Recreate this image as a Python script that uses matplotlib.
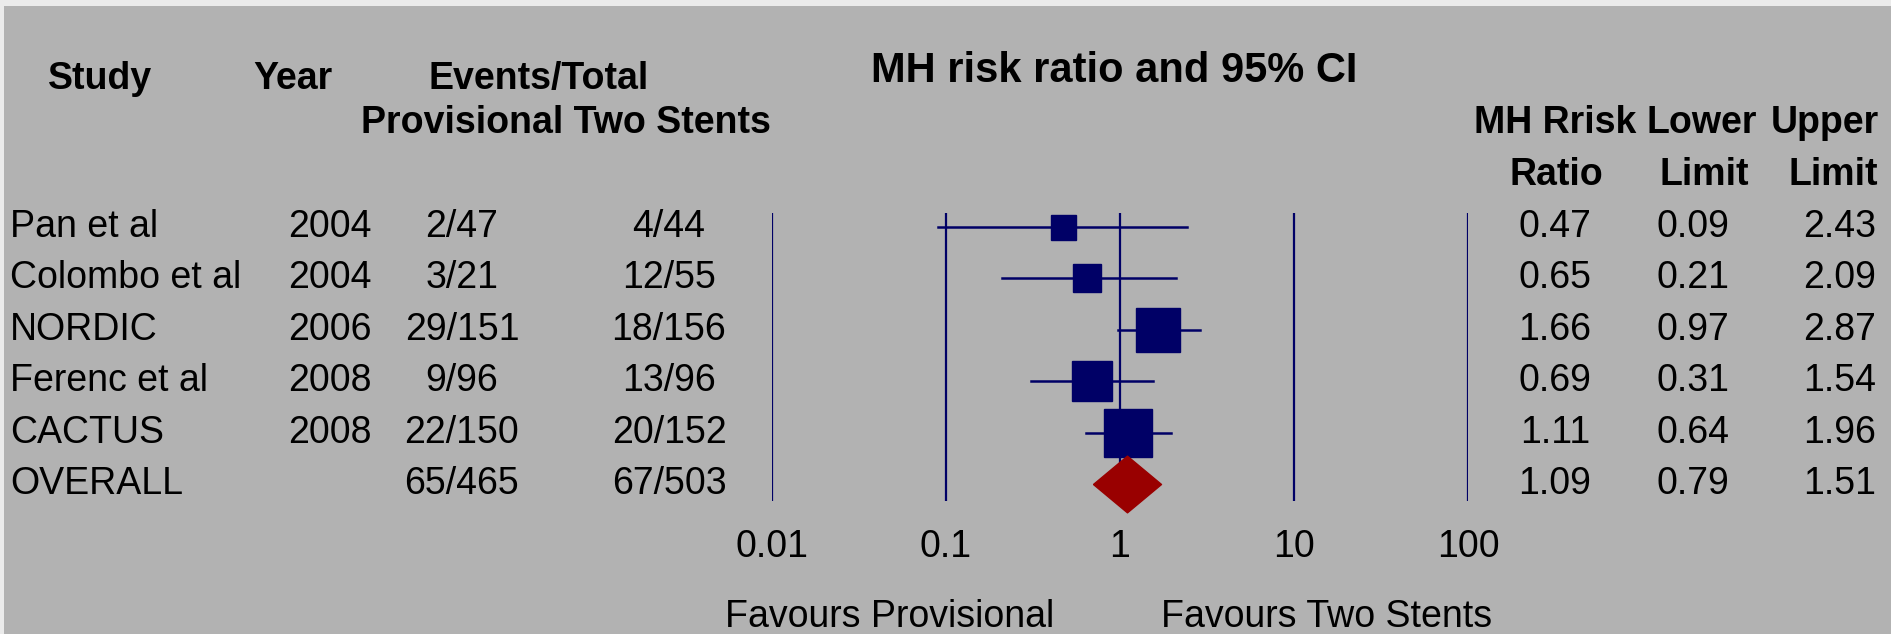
import matplotlib
matplotlib.use("Agg")
import matplotlib.pyplot as plt
from matplotlib.patches import Rectangle
from matplotlib.path import Path
from matplotlib.transforms import blended_transform_factory

plt.rcParams['font.family'] = ['Liberation Sans', 'DejaVu Sans']

# data
studies = ["Pan et al", "Colombo et al", "NORDIC", "Ferenc et al", "CACTUS", "OVERALL"]
years = ["2004", "2004", "2006", "2008", "2008", ""]
provisional = ["2/47", "3/21", "29/151", "9/96", "22/150", "65/465"]
two_stents = ["4/44", "12/55", "18/156", "13/96", "20/152", "67/503"]
rr = [0.47, 0.65, 1.66, 0.69, 1.11, 1.09]
lower = [0.09, 0.21, 0.97, 0.31, 0.64, 0.79]
upper = [2.43, 2.09, 2.87, 1.54, 1.96, 1.51]
ticks = [0.01, 0.1, 1, 10, 100]
tick_labels = ["0.01", "0.1", "1", "10", "100"]

# styles
box_size = [18, 20, 31, 29, 34]
navy = "#000066"
red = "#990000"
bg = "#b2b2b2"

W, H = 1891, 634
fig = plt.figure(figsize=(W / 100, H / 100), dpi=100)
fig.patch.set_facecolor("#ebebeb")
fig.patches.append(Rectangle((4 / W, 0), 1, 1 - 6 / H, transform=fig.transFigure,
                             facecolor=bg, edgecolor="none", zorder=-5))

def fx(px):
    return px / W

def fy(py):
    return 1 - py / H

# forest plot axes: 0.01 -> 772px, 100 -> 1468px ; rows 227..484px
row0, step = 227, 51.4
top_px, bot_px = 213, 501
ax = fig.add_axes([fx(772), fy(bot_px), fx(1468) - fx(772), (bot_px - top_px) / H])
ax.set_zorder(2)
ax.set_xscale("log")
ax.set_xlim(0.01, 100)
ax.set_ylim((bot_px - row0) / step, (top_px - row0) / step)
ax.patch.set_alpha(0)
for s in ax.spines.values():
    s.set_visible(False)
ax.set_yticks([])
ax.set_xticks(ticks)
ax.set_xticklabels(tick_labels)
ax.minorticks_off()
ax.tick_params(axis="x", length=0, pad=20, labelsize=27)

for t in ticks:
    ax.axvline(t, color=navy, lw=1.6, zorder=1)

n = len(studies) - 1
for i in range(n):
    ax.plot([lower[i], upper[i]], [i, i], color=navy, lw=1.8, zorder=2)
    ax.plot(rr[i], i, marker="s", ms=box_size[i], color=navy, zorder=3)

# pooled estimate as a diamond
diamond = Path([(-1.2, 0), (0, 1), (1.2, 0), (0, -1), (-1.2, 0)])
ax.plot(rr[n], n, marker=diamond, ms=49, color=red, mec=red, zorder=4, clip_on=False)

# table text
tr = blended_transform_factory(fig.transFigure, ax.transData)
fs = 27
for i in range(len(studies)):
    fig.text(fx(10), i, studies[i], transform=tr, fontsize=fs, ha="left", va="center")
    fig.text(fx(330), i, years[i], transform=tr, fontsize=fs, ha="center", va="center")
    fig.text(fx(462), i, provisional[i], transform=tr, fontsize=fs, ha="center", va="center")
    fig.text(fx(669), i, two_stents[i], transform=tr, fontsize=fs, ha="center", va="center")
    fig.text(fx(1555), i, "%.2f" % rr[i], transform=tr, fontsize=fs, ha="center", va="center")
    fig.text(fx(1693), i, "%.2f" % lower[i], transform=tr, fontsize=fs, ha="center", va="center")
    fig.text(fx(1840), i, "%.2f" % upper[i], transform=tr, fontsize=fs, ha="center", va="center")

# headers
hb = dict(fontsize=fs, fontweight="bold", ha="center", va="center")
fig.text(fx(1114), fy(71), "MH risk ratio and 95% CI", fontsize=30, fontweight="bold",
         ha="center", va="center")
fig.text(fx(100), fy(79), "Study", **hb)
fig.text(fx(293), fy(79), "Year", **hb)
fig.text(fx(539), fy(79), "Events/Total", **hb)
fig.text(fx(566), fy(123), "Provisional Two Stents", **hb)
fig.text(fx(1555), fy(123), "MH Rrisk", **hb)
fig.text(fx(1556), fy(175), "Ratio", **hb)
fig.text(fx(1702), fy(123), "Lower", **hb)
fig.text(fx(1704), fy(175), "Limit", **hb)
fig.text(fx(1825), fy(123), "Upper", **hb)
fig.text(fx(1833), fy(175), "Limit", **hb)

fig.text(fx(890), fy(617), "Favours Provisional", fontsize=fs, ha="center", va="center")
fig.text(fx(1327), fy(617), "Favours Two Stents", fontsize=fs, ha="center", va="center")

fig.savefig("out.png", dpi=100, facecolor=fig.get_facecolor())
